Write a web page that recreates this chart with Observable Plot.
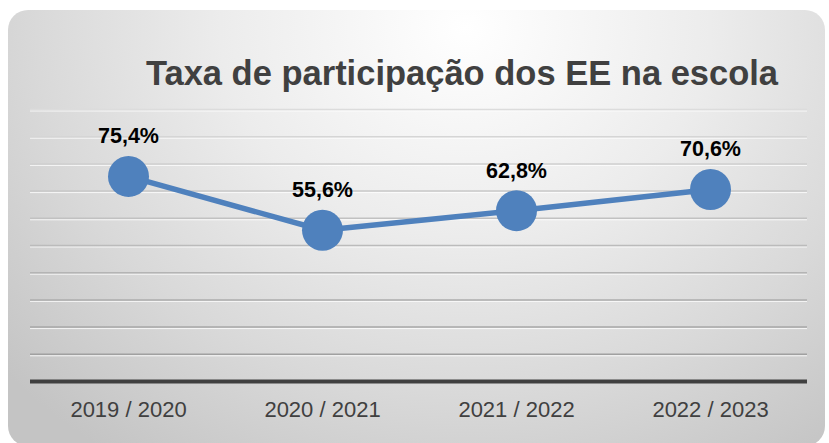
<!DOCTYPE html>
<html>
<head>
<meta charset="utf-8">
<script src="https://cdn.jsdelivr.net/npm/d3@7"></script>
<script src="https://cdn.jsdelivr.net/npm/@observablehq/plot@0.6"></script>
<style>
  html, body { margin: 0; padding: 0; background: #ffffff; width: 829px; height: 443px; overflow: hidden; }
  #card {
    position: absolute; left: 8px; top: 10px; width: 817px; height: 436px;
    border-radius: 20px;
    background: radial-gradient(ellipse 75% 120% at 56% 4%, #ffffff 0%, #ececec 40%, #d9d9d9 70%, #c4c4c4 100%);
  }
  #title {
    position: absolute; left: 62px; width: 800px; top: 56px;
    text-align: center; white-space: nowrap;
    font: bold 34.5px/34px "Liberation Sans", Arial, sans-serif; color: #404040;
  }
  #chart { position: absolute; left: 0; top: 90px; }
</style>
</head>
<body>
<div id="card"></div>
<div id="title">Taxa de participação dos EE na escola</div>
<div id="chart"></div>
<script>
const categories = ["2019 / 2020", "2020 / 2021", "2021 / 2022", "2022 / 2023"];
const values = [75.4, 55.6, 62.8, 70.6];
const labels = ["75,4%", "55,6%", "62,8%", "70,6%"];
const gridValues = [10, 20, 30, 40, 50, 60, 70, 80, 90, 100];

const data = categories.map((c, i) => ({cat: c, v: values[i], label: labels[i]}));
const gridColor = d3.scaleLinear().domain([10, 100]).range(["#a0a0a0", "#dcdcdc"]);

const plot = Plot.plot({
  width: 829,
  height: 353,
  marginLeft: 30,
  marginRight: 22,
  marginTop: 19,
  marginBottom: 62,
  style: {background: "transparent", fontFamily: "'Liberation Sans', Arial, sans-serif"},
  x: {type: "point", domain: categories, padding: 0.5, label: null},
  y: {domain: [0, 100], axis: null},
  marks: [
    Plot.ruleY(gridValues, {stroke: "#ffffff", strokeWidth: 1, strokeOpacity: 0.8, dy: 1.5}),
    Plot.ruleY(gridValues, {stroke: d => gridColor(d), strokeWidth: 1.5}),
    Plot.ruleY([0], {stroke: "#404040", strokeWidth: 4}),
    Plot.axisX({tickSize: 0, tickPadding: 20, fontSize: 22, fill: "#404040", label: null}),
    Plot.line(data, {x: "cat", y: "v", stroke: "#4f81bd", strokeWidth: 5.5}),
    Plot.dot(data, {x: "cat", y: "v", r: 20.5, fill: "#4f81bd", stroke: "none"}),
    Plot.text(data, {x: "cat", y: "v", text: "label", dy: -40, fontSize: 21.5, fontWeight: "bold", fill: "#000000"})
  ]
});
document.getElementById("chart").appendChild(plot);
</script>
</body>
</html>
